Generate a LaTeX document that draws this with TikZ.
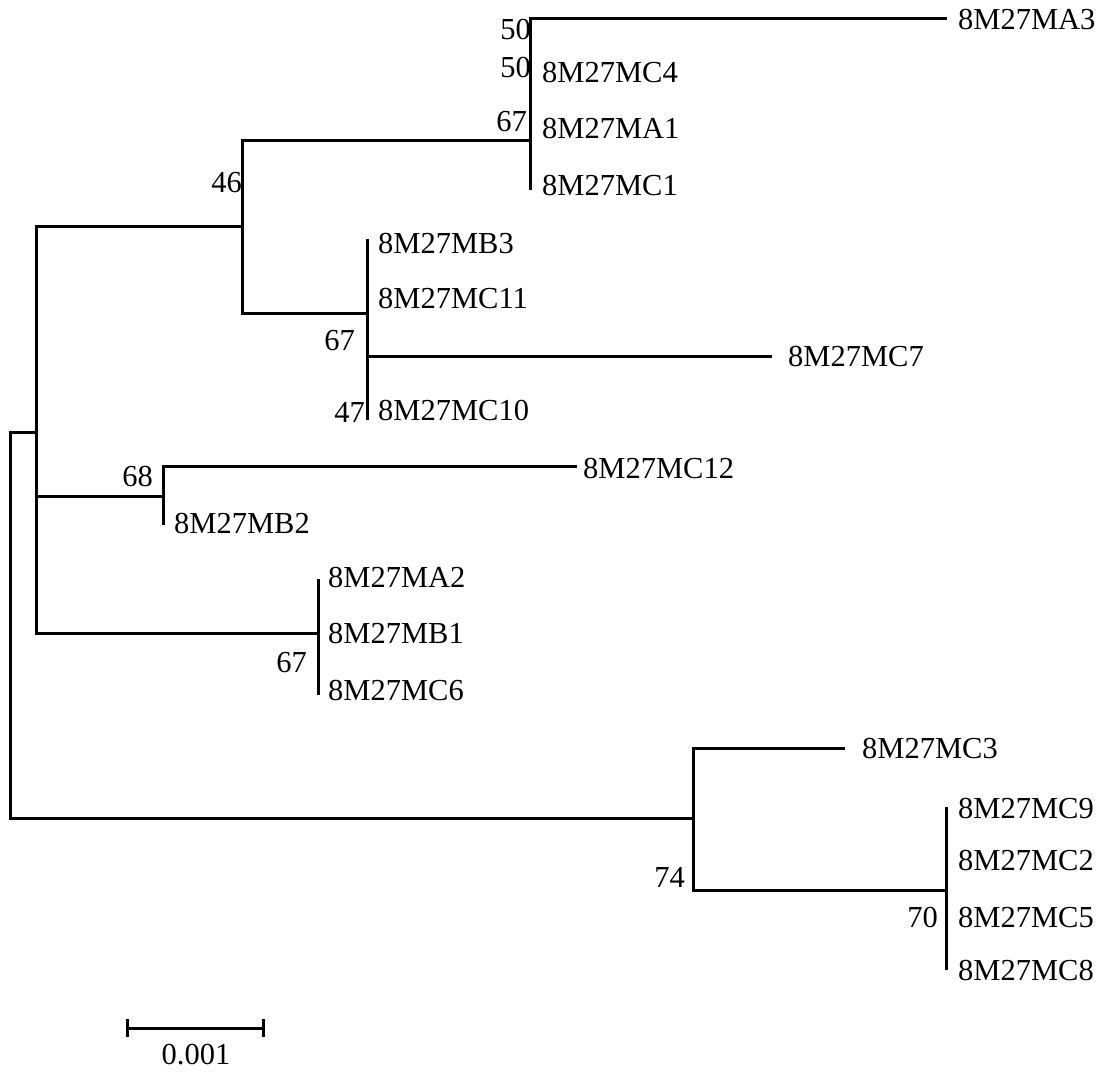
\documentclass[tikz,border=0pt]{standalone}
\usepackage{fontspec}
\setmainfont{Liberation Serif}
\begin{document}
\begin{tikzpicture}[x=1pt,y=-1pt,
  branch/.style={line width=3pt,line cap=rect},
  leaf/.style={anchor=west,inner sep=0pt,font=\fontsize{30.5}{36}\selectfont},
  boot/.style={anchor=east,inner sep=0pt,font=\fontsize{30.5}{36}\selectfont}]
\useasboundingbox (0,0) rectangle (1107,1072);

% internal nodes (x = depth, y = attachment height)
\coordinate (root) at (10,625);
\coordinate (A) at (36,432);
\coordinate (B) at (242,226);
\coordinate (C) at (530,140);
\coordinate (D) at (367,313);
\coordinate (G) at (163,496);
\coordinate (H) at (318,633);
\coordinate (E) at (693,818);
\coordinate (F) at (946,890);

% tips
\coordinate (tMA3) at (945,18);
\coordinate (tMC4) at (530,73);
\coordinate (tMA1) at (530,128);
\coordinate (tMC1) at (530,188);
\coordinate (tMB3) at (367,240);
\coordinate (tMC11) at (367,298);
\coordinate (tMC7) at (770,356);
\coordinate (tMC10) at (367,418);
\coordinate (tMC12) at (575,466);
\coordinate (tMB2) at (163,523);
\coordinate (tMA2) at (318,580);
\coordinate (tMB1) at (318,633);
\coordinate (tMC6) at (318,693);
\coordinate (tMC3) at (843,748);
\coordinate (tMC9) at (946,808);
\coordinate (tMC2) at (946,860);
\coordinate (tMC5) at (946,917);
\coordinate (tMC8) at (946,968);

% branches
\draw[branch] (root) |- (A);
\draw[branch] (root) |- (E);
\draw[branch] (A) |- (B);
\draw[branch] (A) |- (G);
\draw[branch] (A) |- (H);
\draw[branch] (B) |- (C);
\draw[branch] (B) |- (D);
\draw[branch] (C) |- (tMA3);
\draw[branch] (C) |- (tMC4);
\draw[branch] (C) |- (tMA1);
\draw[branch] (C) |- (tMC1);
\draw[branch] (D) |- (tMB3);
\draw[branch] (D) |- (tMC11);
\draw[branch] (D) |- (tMC7);
\draw[branch] (D) |- (tMC10);
\draw[branch] (G) |- (tMC12);
\draw[branch] (G) |- (tMB2);
\draw[branch] (H) |- (tMA2);
\draw[branch] (H) |- (tMB1);
\draw[branch] (H) |- (tMC6);
\draw[branch] (E) |- (tMC3);
\draw[branch] (E) |- (F);
\draw[branch] (F) |- (tMC9);
\draw[branch] (F) |- (tMC2);
\draw[branch] (F) |- (tMC5);
\draw[branch] (F) |- (tMC8);

% taxon labels
\node[leaf] (lMA3) at (958,20) {8M27MA3};
\node[leaf] (lMC4) at (542,73) {8M27MC4};
\node[leaf] (lMA1) at (542,128) {8M27MA1};
\node[leaf] (lMC1) at (542,185) {8M27MC1};
\node[leaf] (lMB3) at (378,243) {8M27MB3};
\node[leaf] (lMC11) at (378,298) {8M27MC11};
\node[leaf] (lMC7) at (788,356) {8M27MC7};
\node[leaf] (lMC10) at (378,410) {8M27MC10};
\node[leaf] (lMC12) at (583,468) {8M27MC12};
\node[leaf] (lMB2) at (174,523) {8M27MB2};
\node[leaf] (lMA2) at (328,577) {8M27MA2};
\node[leaf] (lMB1) at (328,633) {8M27MB1};
\node[leaf] (lMC6) at (328,690) {8M27MC6};
\node[leaf] (lMC3) at (862,748) {8M27MC3};
\node[leaf] (lMC9) at (958,808) {8M27MC9};
\node[leaf] (lMC2) at (958,860) {8M27MC2};
\node[leaf] (lMC5) at (958,917) {8M27MC5};
\node[leaf] (lMC8) at (958,970) {8M27MC8};

% bootstrap values
\node[boot] (b1) at (531,30) {50};
\node[boot] (b2) at (531,68) {50};
\node[boot] (b3) at (527,122) {67};
\node[boot] (b4) at (242,183) {46};
\node[boot] (b5) at (153,476) {68};
\node[boot] (b6) at (355,341) {67};
\node[boot] (b7) at (365,412) {47};
\node[boot] (b8) at (307,663) {67};
\node[boot] (b9) at (938,917) {70};
\node[boot] (b10) at (685,877) {74};

% scale bar
\coordinate (sbL) at (127,1028);
\coordinate (sbR) at (263,1028);
\draw[branch,line cap=butt] (sbL) -- (sbR);
\draw[branch,line cap=butt] ([yshift=-9pt]sbL) -- ([yshift=9pt]sbL);
\draw[branch,line cap=butt] ([yshift=-9pt]sbR) -- ([yshift=9pt]sbR);
\node[inner sep=0pt,font=\fontsize{30.5}{36}\selectfont] (sblabel) at (196,1055) {0.001};
\end{tikzpicture}
\end{document}
